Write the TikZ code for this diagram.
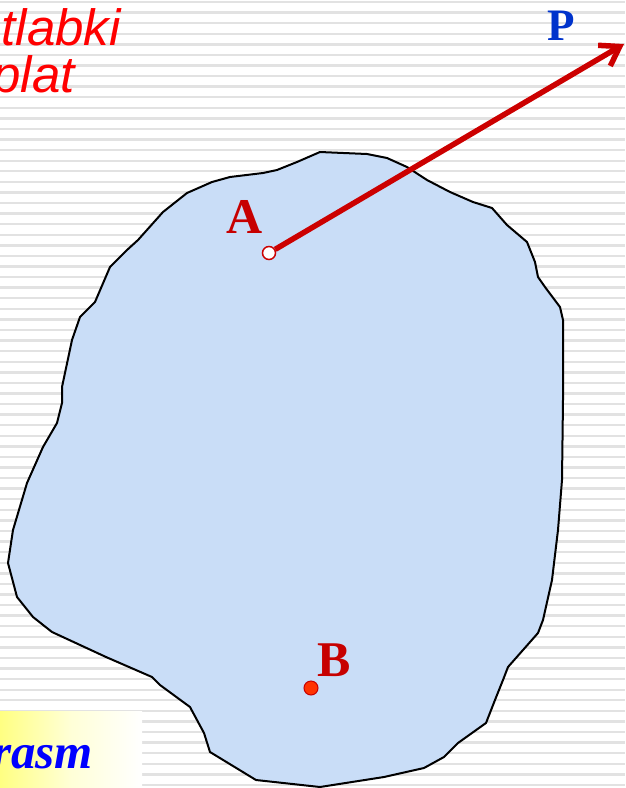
\documentclass[tikz,border=0pt]{standalone}
\usepackage{fontspec}
\setmainfont{Liberation Serif}
\newfontfamily\labelsans{Liberation Sans}
\usepackage{tikz}
\usetikzlibrary{arrows.meta}
\definecolor{darkred}{rgb}{0.78,0,0}
\definecolor{vecred}{rgb}{0.80,0,0}
\definecolor{pblue}{rgb}{0,0.2,0.8}
\definecolor{blobfill}{RGB}{201,221,247}
\definecolor{stripe}{RGB}{226,226,226}
\definecolor{dotred}{RGB}{255,51,0}

\begin{document}
\begin{tikzpicture}[x=1pt,y=-1pt]
    \def\w{625}
    \def\h{788}
    \useasboundingbox (0,0) rectangle (\w,\h);
    \fill[white] (0,0) rectangle (\w,\h);
    \foreach \k in {0,...,74}
      \draw[stripe, line width=2.4pt] (0,2+10.58*\k) -- (\w,2+10.58*\k);
    \filldraw[fill=blobfill, draw=black, line width=2pt, line join=round]
      (320,152) -- (367,154) -- (387,158) -- (407,167) -- (427,180) -- (450,192)
      -- (473,202) -- (492,208) -- (507,225) -- (527,242) -- (535,262) -- (538,277)
      -- (545,287) -- (560,307) -- (563,320) -- (563,400) -- (562,480) -- (558,530)
      -- (552,580) -- (543,620) -- (538,633) -- (523,650) -- (508,667) -- (503,680)
      -- (495,700) -- (486,723) -- (458,743) -- (444,757) -- (424,768) -- (384,777)
      -- (320,787) -- (256,780) -- (210,752) -- (204,733) -- (190,707) -- (160,685)
      -- (152,677) -- (106,657) -- (52,632) -- (33,617) -- (17,597) -- (8,563)
      -- (13,530) -- (27,483) -- (43,447) -- (57,423) -- (62,403) -- (62,387)
      -- (72,340) -- (80,317) -- (95,302) -- (110,267) -- (127,250) -- (138,240)
      -- (163,212) -- (187,193) -- (212,182) -- (230,177) -- (263,173) -- (277,170)
      -- (297,162) -- cycle;
    \shade[left color={rgb,255:red,255;green,255;blue,130}, right color=white, middle color={rgb,255:red,255;green,255;blue,215}]
      (0,711) rectangle (142,\h);
    \node[anchor=base east, inner sep=0pt, text=blue, font=\fontsize{49}{58}\selectfont\bfseries\itshape] (rasm) at (93,768) {rasm};
    \node[anchor=base east, inner sep=0pt, text=red, font=\labelsans\fontsize{51}{58}\selectfont\itshape] (tlabki) at (121,45) {tlabki};
    \node[anchor=base east, inner sep=0pt, text=red, font=\labelsans\fontsize{51}{58}\selectfont\itshape] (plat) at (75,92) {plat};
    \coordinate (tipP) at (624,44);
    \node[circle, fill=white, draw=vecred, line width=1.5pt, minimum size=13pt, inner sep=0pt] (ptA) at (269,253) {};
    \node[circle, fill=dotred, draw=darkred, line width=1pt, minimum size=14pt, inner sep=0pt] (ptB) at (311,688) {};
    \draw[vecred, line width=5.5pt, -{Straight Barb[length=18pt,width=24pt]}] (ptA) -- (tipP);
    \node[anchor=base west, inner sep=0pt, text=darkred, font=\fontsize{50}{60}\selectfont\bfseries] (labA) at (226,233) {A};
    \node[anchor=base west, inner sep=0pt, text=darkred, font=\fontsize{50}{60}\selectfont\bfseries] (labB) at (317,676) {B};
    \node[anchor=base west, inner sep=0pt, text=pblue, font=\fontsize{45}{54}\selectfont\bfseries] (labP) at (547,40) {P};
  \end{tikzpicture}
\end{document}
